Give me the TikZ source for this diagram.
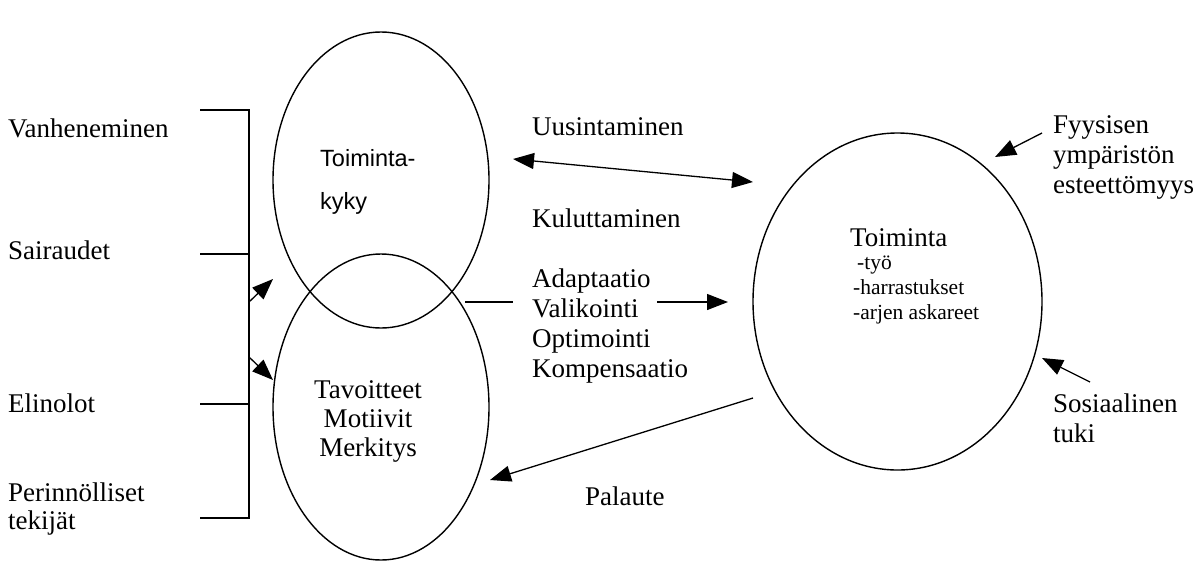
\documentclass[tikz,border=0pt]{standalone}
\usepackage{fontspec}
\setmainfont{Liberation Serif}
\setsansfont{Liberation Sans}
\usetikzlibrary{shapes.geometric,arrows.meta}
\tikzset{
  circ/.style={draw,ellipse,line width=1.4pt,inner sep=0pt},
  lbl/.style={inner sep=0pt,anchor=west,align=left,font=\fontsize{27}{30}\selectfont},
  small/.style={inner sep=0pt,anchor=west,align=left,font=\fontsize{21.5}{25}\selectfont},
  ln/.style={line width=1.3pt},
  tip/.style={},
  arr/.style={line width=1.3pt,-{Triangle[length=21pt,width=16pt]}},
  darr/.style={line width=1.3pt,{Triangle[length=21pt,width=16pt]}-{Triangle[length=21pt,width=16pt]}}
}
\begin{document}
\begin{tikzpicture}[x=1pt,y=-1pt]
\useasboundingbox (0,0) rectangle (1193,563);
% ellipses
\node[circ,minimum width=216pt,minimum height=296pt] (kyky) at (381,180) {};
\node[circ,minimum width=216pt,minimum height=306pt] (tav) at (381,407) {};
\node[circ,minimum width=289pt,minimum height=337pt] (toim) at (897.5,301.5) {};
% left labels
\node[lbl] (v) at (8,128) {Vanheneminen};
\node[lbl] (s) at (8,250) {Sairaudet};
\node[lbl] (e) at (8,403) {Elinolot};
\node[lbl,font=\fontsize{27}{28}\selectfont] (p) at (8,509) {Perinnölliset\\tekijät};
% bracket
\coordinate (b1) at (200,110); \coordinate (b1r) at (249,110);
\coordinate (b2) at (200,254); \coordinate (b2r) at (249,254);
\coordinate (b3) at (200,404); \coordinate (b3r) at (249,404);
\coordinate (b4) at (200,518); \coordinate (b4r) at (249,518);
\draw[ln] (b1) -- (b1r) -- (b4r) -- (b4);
\draw[ln] (b2) -- (b2r);
\draw[ln] (b3) -- (b3r);
\coordinate (a1s) at (249,302); \coordinate (a1e) at (273,279);
\coordinate (a2s) at (249,357); \coordinate (a2e) at (273,380);
\draw[arr] (a1s) -- (a1e);
\draw[arr] (a2s) -- (a2e);
% ellipse texts
\node[lbl,font=\sffamily\fontsize{23.5}{28}\selectfont] (t1) at (320,158) {Toiminta-};
\node[lbl,font=\sffamily\fontsize{23.5}{28}\selectfont] (t2) at (320,203) {kyky};
\node[inner sep=0pt,align=center,font=\fontsize{27}{29}\selectfont] (tavt) at (368,421) {Tavoitteet\\Motiivit\\Merkitys};
\node[lbl] (toimt) at (850,238) {Toiminta};
\node[small] (list) at (853,290) {\hspace{4pt}-työ\\-harrastukset\\-arjen askareet};
% middle
\node[lbl] (uus) at (532,127) {Uusintaminen};
\node[lbl] (kul) at (532,218) {Kuluttaminen};
\node[lbl] (avok) at (532,326) {Adaptaatio\\Valikointi\\Optimointi\\Kompensaatio};
\node[lbl] (pal) at (585,496) {Palaute};
\coordinate (d1) at (513,159); \coordinate (d2) at (753,182);
\draw[darr] (d1) -- (d2);
\coordinate (m1) at (465,302); \coordinate (m2) at (513,302);
\draw[ln] (m1) -- (m2);
\coordinate (m3) at (657,302); \coordinate (m4) at (728,302);
\draw[arr] (m3) -- (m4);
\coordinate (p1) at (753,398); \coordinate (p2) at (490,480);
\draw[arr] (p1) -- (p2);
% right labels
\node[lbl] (fy) at (1053,157) {Fyysisen\\ympäristön\\esteettömyys};
\node[lbl] (so) at (1053,418) {Sosiaalinen\\tuki};
\coordinate (f1) at (1042,133); \coordinate (f2) at (995,157);
\draw[arr] (f1) -- (f2);
\coordinate (s1) at (1090,382); \coordinate (s2) at (1042,358);
\draw[arr] (s1) -- (s2);
\end{tikzpicture}
\end{document}
